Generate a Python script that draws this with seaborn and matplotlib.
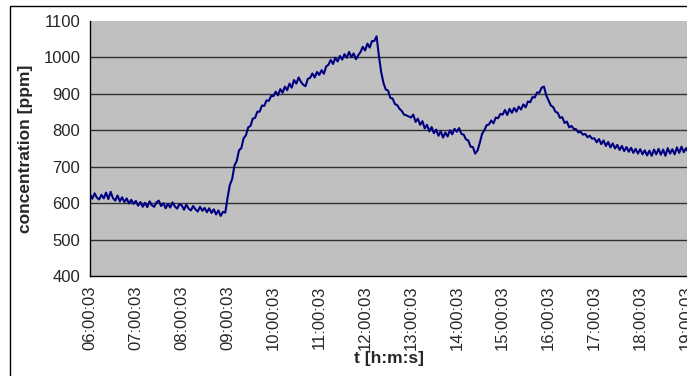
import numpy as np
import pandas as pd
import matplotlib
matplotlib.use("Agg")
import matplotlib.pyplot as plt
import seaborn as sns
from matplotlib.patches import Rectangle

# concentration [ppm], one reading every 3 minutes, grouped per hour
hour_06 = [624, 612, 627, 615, 610, 623, 613, 629, 611, 631, 614, 607, 621, 605, 616, 603, 613, 599, 609, 598]
hour_07 = [606, 593, 603, 590, 601, 589, 605, 594, 590, 602, 607, 592, 600, 586, 598, 588, 602, 591, 585, 597]
hour_08 = [594, 582, 596, 585, 580, 592, 583, 577, 590, 579, 587, 575, 586, 573, 583, 569, 580, 565, 576, 574]
hour_09 = [615, 650, 666, 703, 716, 745, 751, 778, 786, 808, 812, 832, 834, 851, 851, 868, 867, 882, 881, 894]
hour_10 = [894, 906, 896, 913, 903, 920, 910, 928, 917, 938, 928, 945, 933, 925, 921, 941, 944, 956, 945, 960]
hour_11 = [952, 965, 955, 975, 980, 993, 982, 999, 989, 1004, 994, 1009, 999, 1015, 1001, 1011, 995, 1006, 1015, 1029]
hour_12 = [1019, 1038, 1027, 1045, 1045, 1058, 1005, 960, 930, 912, 909, 889, 887, 872, 869, 859, 853, 843, 841, 838]
hour_13 = [835, 843, 823, 832, 815, 825, 805, 815, 797, 809, 792, 802, 785, 797, 780, 794, 783, 800, 789, 804]
hour_14 = [796, 806, 790, 788, 775, 772, 755, 754, 736, 744, 765, 790, 800, 814, 816, 827, 819, 835, 833, 845]
hour_15 = [843, 856, 842, 859, 848, 861, 851, 865, 857, 871, 863, 879, 877, 891, 890, 904, 903, 917, 920, 896]
hour_16 = [882, 868, 864, 851, 848, 834, 836, 820, 824, 808, 812, 804, 803, 794, 796, 788, 790, 781, 785, 777]
hour_17 = [778, 767, 776, 762, 772, 757, 768, 753, 764, 750, 760, 746, 757, 743, 754, 741, 752, 738, 749, 736]
hour_18 = [748, 734, 745, 731, 744, 730, 747, 734, 749, 733, 747, 730, 751, 736, 748, 734, 753, 738, 755, 740]
hour_19 = [751, 739, 753]

tick_labels = ["06:00:03", "07:00:03", "08:00:03", "09:00:03", "10:00:03", "11:00:03", "12:00:03",
               "13:00:03", "14:00:03", "15:00:03", "16:00:03", "17:00:03", "18:00:03", "19:00:03"]
y_ticks = [400, 500, 600, 700, 800, 900, 1000, 1100]

concentration = (hour_06 + hour_07 + hour_08 + hour_09 + hour_10 + hour_11 + hour_12
                 + hour_13 + hour_14 + hour_15 + hour_16 + hour_17 + hour_18 + hour_19)
times = pd.date_range("2000-01-01 06:00:03", periods=len(concentration), freq="3min")
df = pd.DataFrame({"t": times, "c": concentration})
tick_pos = pd.to_datetime(["2000-01-01 " + s for s in tick_labels])

sns.set_style("white")
plt.rcParams["font.family"] = ["Liberation Sans", "DejaVu Sans"]

fig = plt.figure(figsize=(6.87, 3.76), dpi=100)
ax = fig.add_axes([90 / 687, 100 / 376, 597 / 687, 255 / 376])
ax.set_facecolor("#C0C0C0")

sns.lineplot(data=df, x="t", y="c", ax=ax, color="#000080", linewidth=1.5)

ax.set_ylim(400, 1100)
ax.set_yticks(y_ticks)
ax.set_yticklabels([str(v) for v in y_ticks], fontsize=12)
for v in y_ticks[1:-1]:
    ax.axhline(v, color="#303030", linewidth=1, zorder=0.5)

ax.set_xlim(times[0], times[0] + pd.Timedelta(hours=13.02))
ax.set_xticks(tick_pos)
ax.set_xticklabels(tick_labels, rotation=90, fontsize=12)

ax.tick_params(axis="both", direction="out", length=5, width=1, color="black", pad=2)
for side in ["top", "right"]:
    ax.spines[side].set_visible(False)
for side in ["left", "bottom"]:
    ax.spines[side].set_color("black")
    ax.spines[side].set_linewidth(1)

ax.set_ylabel("concentration [ppm]", fontsize=12.5, fontweight="bold")
ax.set_xlabel("t [h:m:s]", fontsize=12.5, fontweight="bold")
ax.yaxis.set_label_coords(-0.0955, 0.5)
ax.xaxis.set_label_coords(0.5, -0.294)

# outer chart border (clipped at right and bottom like the original)
fig.patches.append(Rectangle((10 / 687, -0.1), 1.2, 1 - 6 / 376 + 0.1, transform=fig.transFigure,
                             fill=False, edgecolor="black", linewidth=1))

fig.savefig("out.png", dpi=100)
